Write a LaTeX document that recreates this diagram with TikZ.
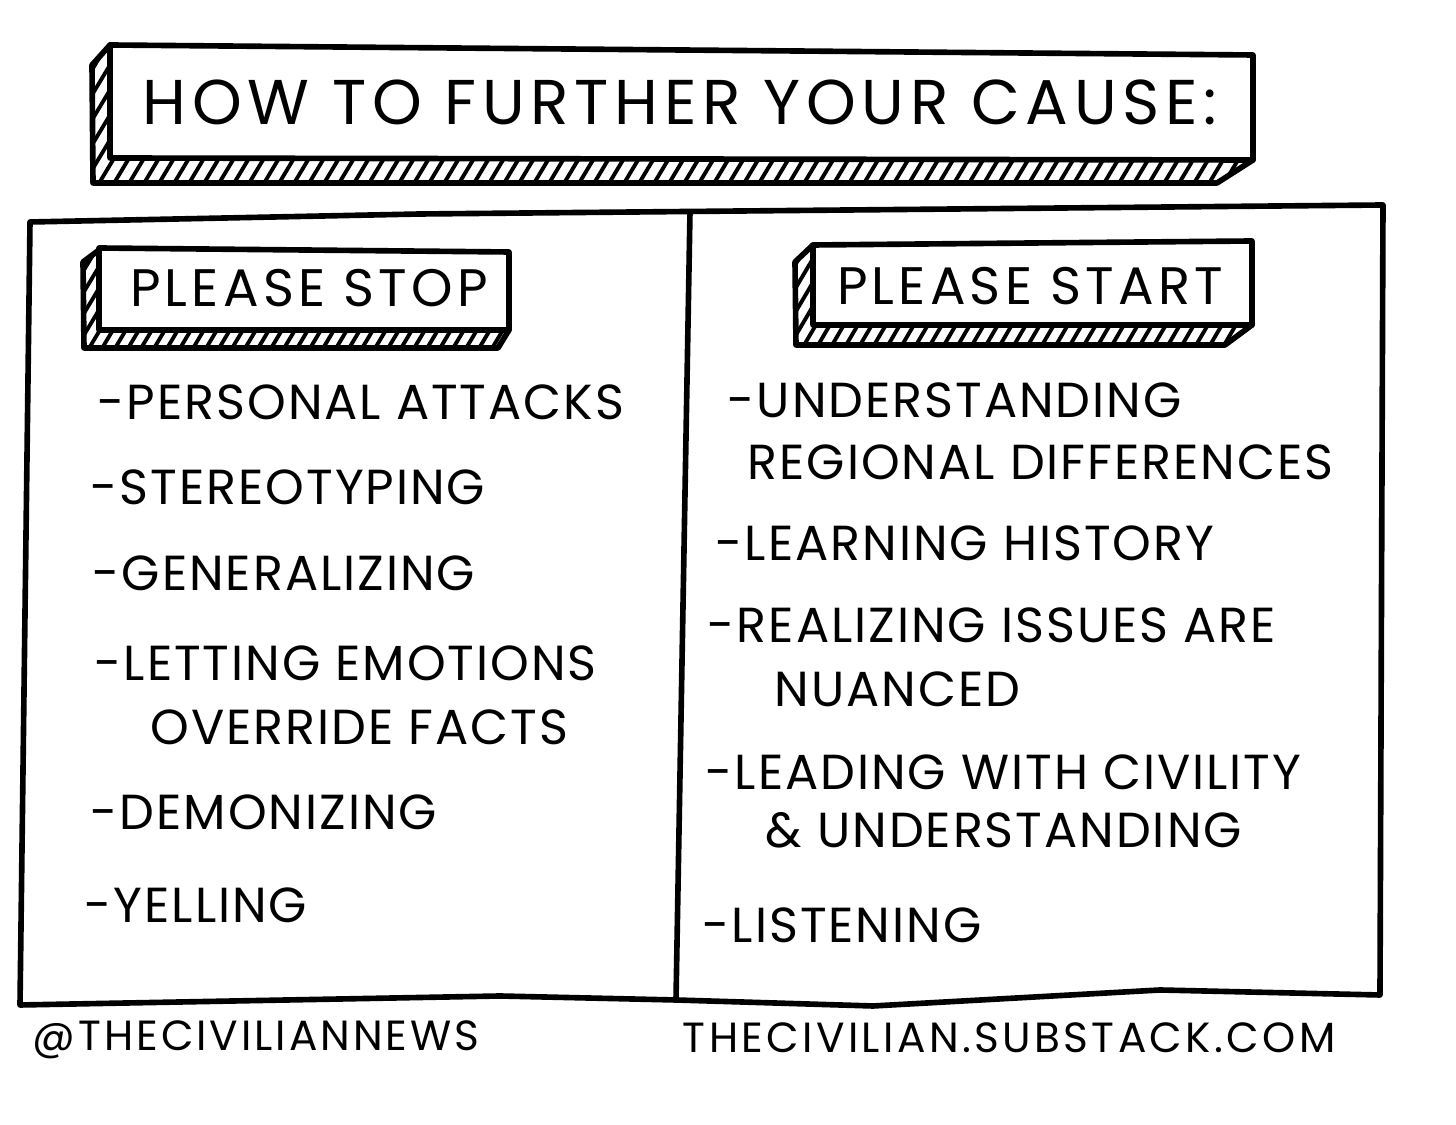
\documentclass[tikz,border=0pt]{standalone}
\usepackage{fontspec}
\setmainfont{Poppins}
\usetikzlibrary{positioning}

\begin{document}
\begin{tikzpicture}[x=0.01cm,y=-0.01cm,line width=1.6pt,line join=round,line cap=round,
    item/.style={anchor=west,inner sep=0pt,font=\fontsize{14}{16}\selectfont\addfontfeature{LetterSpace=4}},
    label/.style={anchor=center,inner sep=0pt,font=\fontsize{15}{18}\selectfont\addfontfeature{LetterSpace=8}},
    footer/.style={anchor=west,inner sep=0pt,font=\fontsize{12}{14}\selectfont\addfontfeature{LetterSpace=7}},
    hatch/.style={line width=1.1pt}]
	\useasboundingbox[fill=white] (0,0) rectangle (1456,1125);
	% Title banner
	\begin{scope}
		\clip (110,45) -- (92,65) -- (93,183) -- (1217,183) -- (1253,160) -- (110,160) -- cycle;
		\foreach \a in {-40,-25,...,1260}
		\draw[hatch] (\a,190) -- (\a+84,50);
	\end{scope}
	\draw (110,45) -- (92,65) -- (93,183) -- (1217,183) -- (1253,160);
	\draw[fill=white] (110,45) -- (1253,55) -- (1253,160) -- (110,158) -- cycle;
	\node[inner sep=0pt,font=\fontsize{18}{20}\selectfont\addfontfeature{LetterSpace=9}] (title) at (680,102) {HOW TO FURTHER YOUR CAUSE:};
	% Frame
	\draw (30,222) -- (420,214) -- (1383,205) -- (1380,995) -- (1160,990) -- (873,1006)
		-- (676,1000) -- (500,996) -- (20,1005) -- cycle;
	\draw (690,212) -- (676,1000);
	% Please stop
	\begin{scope}
		\clip (99,250) -- (83,262) -- (84,348) -- (498,348) -- (509,330) -- (99,330) -- cycle;
		\foreach \a in {20,33,...,520}
		\draw[hatch] (\a,355) -- (\a+60,255);
	\end{scope}
	\draw (99,250) -- (83,262) -- (84,348) -- (498,348) -- (509,330);
	\draw[fill=white] (99,248) -- (509,252) -- (509,330) -- (99,330) -- cycle;
	\node[label] (stop) at (309,288) {PLEASE STOP};
	% Please start
	\begin{scope}
		\clip (813,245) -- (795,262) -- (796,345) -- (1225,345) -- (1252,325) -- (813,325) -- cycle;
		\foreach \a in {730,744,...,1260}
		\draw[hatch] (\a,352) -- (\a+60,250);
	\end{scope}
	\draw (813,245) -- (795,262) -- (796,345) -- (1225,345) -- (1252,325);
	\draw[fill=white] (813,245) -- (1252,241) -- (1252,325) -- (813,325) -- cycle;
	\node[label] (start) at (1030,286) {PLEASE START};
	% Stop list
	\node[item] (attacks) at (95,402) {-PERSONAL ATTACKS};
	\node[item] (stereo) at (88,487) {-STEREOTYPING};
	\node[item] (general) at (90,573) {-GENERALIZING};
	\node[item] (emotions) at (92,663) {-LETTING EMOTIONS};
	\node[item] (facts) at (148,727) {OVERRIDE FACTS};
	\node[item] (demon) at (88,812) {-DEMONIZING};
	\node[item] (yelling) at (82,905) {-YELLING};
	% Start list
	\node[item] (underst) at (725,400) {-UNDERSTANDING};
	\node[item] (regional) at (745,462) {REGIONAL DIFFERENCES};
	\node[item] (history) at (713,543) {-LEARNING HISTORY};
	\node[item] (issues) at (705,625) {-REALIZING ISSUES ARE};
	\node[item] (nuanced) at (772,689) {NUANCED};
	\node[item] (civility) at (703,772) {-LEADING WITH CIVILITY};
	\node[item] (civil2) at (763,830) {\& UNDERSTANDING};
	\node[item] (listen) at (700,925) {-LISTENING};
	% Footer
	\node[footer] (handle) at (30,1040) {@THECIVILIANNEWS};
	\node[footer,font=\fontsize{12}{14}\selectfont\addfontfeature{LetterSpace=8}] (site) at (680,1038) {THECIVILIAN.SUBSTACK.COM};
\end{tikzpicture}
\end{document}
